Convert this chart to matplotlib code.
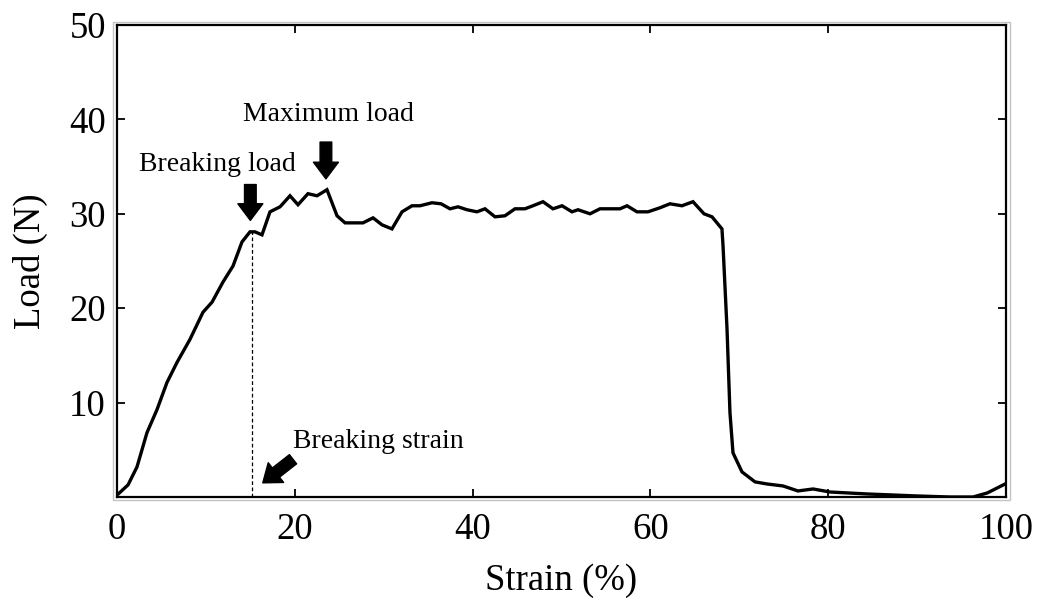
import matplotlib.pyplot as plt
from matplotlib.patches import Rectangle

plt.rcParams['font.family'] = ['Liberation Serif', 'DejaVu Serif']

# tensile test: strain (%) vs load (N)
strain = [0.0, 1.24, 2.25, 3.37, 4.5, 5.62, 6.75, 8.21, 9.67, 10.69, 11.92, 13.05,
          14.06, 14.96, 15.52, 16.31, 17.21, 18.34, 19.46, 20.36, 21.48, 22.5, 23.62,
          24.75, 25.65, 27.67, 28.8, 29.81, 30.93, 32.06, 33.18, 34.08, 35.43, 36.45,
          37.46, 38.36, 39.37, 40.49, 41.39, 42.52, 43.64, 44.77, 45.89, 46.79, 47.92,
          49.04, 50.06, 51.18, 51.86, 53.21, 54.33, 56.58, 57.37, 58.49, 59.73, 61.08,
          62.2, 63.55, 64.79, 66.03, 66.93, 68.05, 68.17, 68.62, 68.95, 69.29, 70.3,
          71.77, 73.12, 74.92, 76.6, 78.3, 80.2, 84.4, 90.0, 93.7, 96.3, 97.9, 99.9]
load = [0.2, 1.28, 3.19, 6.81, 9.26, 12.13, 14.26, 16.7, 19.57, 20.64, 22.77, 24.47,
        27.02, 28.09, 28.09, 27.77, 30.21, 30.74, 31.91, 30.96, 32.13, 31.91, 32.55,
        29.79, 29.04, 29.04, 29.57, 28.83, 28.4, 30.21, 30.85, 30.85, 31.17, 31.06,
        30.53, 30.74, 30.43, 30.21, 30.53, 29.68, 29.79, 30.53, 30.53, 30.85, 31.28,
        30.53, 30.85, 30.21, 30.43, 30.0, 30.53, 30.53, 30.85, 30.21, 30.21, 30.64,
        31.06, 30.85, 31.28, 30.0, 29.68, 28.4, 26.6, 17.77, 8.94, 4.68, 2.66,
        1.6, 1.38, 1.17, 0.64, 0.85, 0.53, 0.32, 0.11, 0.0, 0.0, 0.43, 1.38]

break_strain = 15.2
break_load = 28.1
max_strain = 23.6
max_load = 32.55

fig = plt.figure(figsize=(10.51, 6.05), dpi=100)
ax = fig.add_axes([117 / 1051, 108 / 605, 889 / 1051, 472 / 605])

ax.plot(strain, load, color='black', lw=2.4, solid_joinstyle='miter')
ax.plot([break_strain, break_strain], [0, break_load], color='black', lw=0.9,
        ls=(0, (3, 2)))

arrow = dict(arrowstyle='simple,head_width=0.9,head_length=0.6,tail_width=0.42',
             color='black', shrinkA=0, shrinkB=0, mutation_scale=20)
ax.annotate('', xy=(break_strain - 0.2, 29.3), xytext=(break_strain - 0.2, 33.1),
            arrowprops=arrow)
ax.annotate('', xy=(max_strain - 0.1, 33.7), xytext=(max_strain - 0.1, 37.6),
            arrowprops=arrow)
ax.annotate('', xy=(16.4, 1.5), xytext=(19.8, 4.0), arrowprops=arrow)

ax.text(2.45, 34.5, 'Breaking load', fontsize=20, ha='left', va='baseline')
ax.text(14.2, 39.8, 'Maximum load', fontsize=20, ha='left', va='baseline')
ax.text(19.8, 5.2, 'Breaking strain', fontsize=20, ha='left', va='baseline')

ax.set_xlim(0, 100)
ax.set_ylim(0, 50)
ax.set_xticks([0, 20, 40, 60, 80, 100])
ax.set_yticks([10, 20, 30, 40, 50])
ax.tick_params(direction='in', length=6, width=1.3, top=True, right=True,
               labelsize=26.5)
ax.tick_params(axis='x', pad=11)
ax.tick_params(axis='y', pad=8)
for s in ax.spines.values():
    s.set_linewidth(1.6)

ax.set_xlabel('Strain (%)', fontsize=26.5, labelpad=12)
ax.set_ylabel('Load (N)', fontsize=26.5, labelpad=15)

# thin grey outline just outside the frame
ax.add_patch(Rectangle((-0.004, -0.007), 1.008, 1.013, transform=ax.transAxes,
                       fill=False, ec='#c4c4c4', lw=1, clip_on=False))

fig.savefig('out.png', dpi=100)
